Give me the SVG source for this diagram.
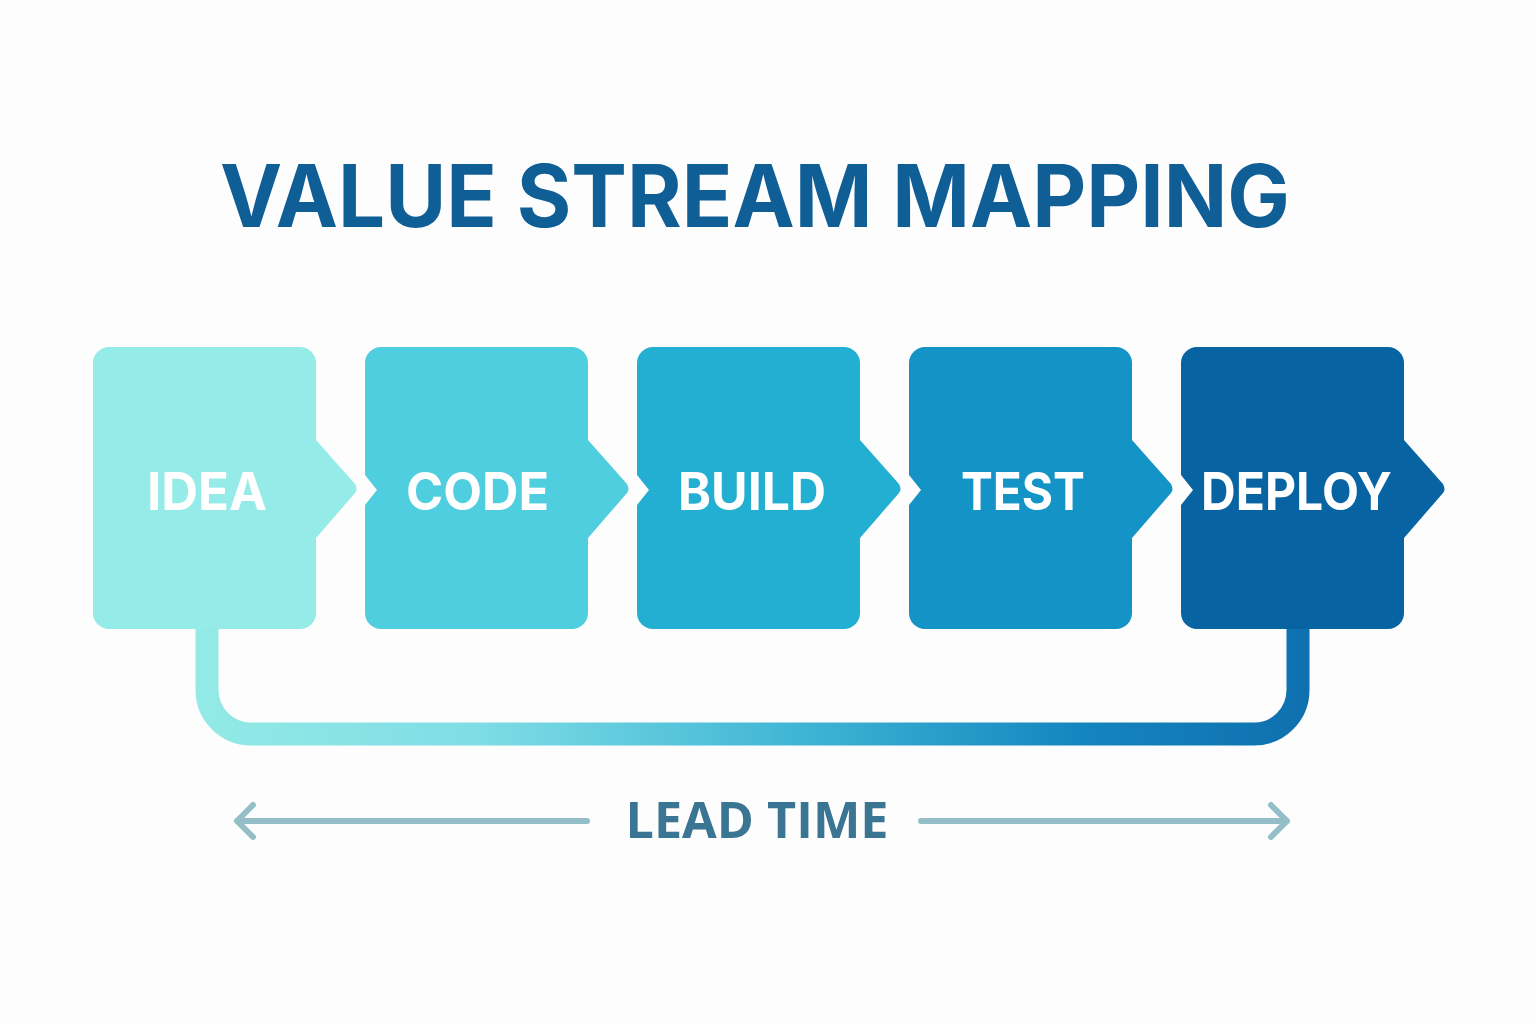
<svg xmlns="http://www.w3.org/2000/svg" width="1536" height="1024" viewBox="0 0 1536 1024">
  <defs>
    <linearGradient id="loopGrad" x1="196" y1="0" x2="1310" y2="0" gradientUnits="userSpaceOnUse">
      <stop offset="0" stop-color="#93EAE6"/>
      <stop offset="0.25" stop-color="#7FDDE5"/>
      <stop offset="0.55" stop-color="#3DB4D4"/>
      <stop offset="0.8" stop-color="#1484BF"/>
      <stop offset="1" stop-color="#0F70AE"/>
    </linearGradient>
    <!-- step shape: rounded box with a pointed right side and a small notch on the left -->
    <path id="step" d="M16,0 H207 A16,16 0 0 1 223,16 V93 L262,137 Q265,143 262,146 L223,191 V266 A16,16 0 0 1 207,282 H16 A16,16 0 0 1 0,266 V158 L12,143 L0,128 V16 A16,16 0 0 1 16,0 Z"/>
    <path id="stepFirst" d="M16,0 H207 A16,16 0 0 1 223,16 V93 L262,137 Q265,143 262,146 L223,191 V266 A16,16 0 0 1 207,282 H16 A16,16 0 0 1 0,266 V16 A16,16 0 0 1 16,0 Z"/>
  </defs>
  <style>
    .title { font-family: Inter, "Noto Sans", "Liberation Sans", sans-serif; font-weight: 700; font-size: 86px; fill: #0F5E96; }
    .label { font-family: Inter, "Noto Sans", "Liberation Sans", sans-serif; font-weight: 700; font-size: 52px; fill: #FFFFFF; }
    .lead { font-family: "Open Sans", "Noto Sans", "Liberation Sans", sans-serif; font-weight: 700; font-size: 50px; fill: #3A7593; }
    .span { fill: none; stroke: #94BEC8; stroke-width: 6; stroke-linecap: round; stroke-linejoin: round; }
  </style>

  <rect width="1536" height="1024" fill="#FDFDFD"/>

  <text class="title" x="755" y="227" text-anchor="middle" textLength="1070" lengthAdjust="spacingAndGlyphs">VALUE STREAM MAPPING</text>

  <!-- feedback loop from the first step to the last -->
  <g id="connectors">
    <path d="M207,625 V690 A44,44 0 0 0 251,734 H1254 A44,44 0 0 0 1298,690 V625" fill="none" stroke="url(#loopGrad)" stroke-width="23"/>
  </g>

  <g id="node-idea" transform="translate(93,347)">
    <use href="#stepFirst" fill="#94EBE7"/>
    <text class="label" x="114" y="163" text-anchor="middle" textLength="120" lengthAdjust="spacingAndGlyphs">IDEA</text>
  </g>
  <g id="node-code" transform="translate(365,347)">
    <use href="#step" fill="#4ECEDE"/>
    <text class="label" x="112.5" y="163" text-anchor="middle" textLength="143" lengthAdjust="spacingAndGlyphs">CODE</text>
  </g>
  <g id="node-build" transform="translate(637,347)">
    <use href="#step" fill="#22AFD2"/>
    <text class="label" x="115" y="163" text-anchor="middle" textLength="148" lengthAdjust="spacingAndGlyphs">BUILD</text>
  </g>
  <g id="node-test" transform="translate(909,347)">
    <use href="#step" fill="#1393C6"/>
    <text class="label" x="114" y="163" text-anchor="middle" textLength="124" lengthAdjust="spacingAndGlyphs">TEST</text>
  </g>
  <g id="node-deploy" transform="translate(1181,347)">
    <use href="#step" fill="#0763A1"/>
    <text class="label" x="115.5" y="163" text-anchor="middle" textLength="191" lengthAdjust="spacingAndGlyphs">DEPLOY</text>
  </g>

  <!-- lead time span -->
  <g id="lead-time">
    <path class="span" d="M587,821 H237 M253,805 L237,821 L253,837"/>
    <path class="span" d="M921,821 H1287 M1271,805 L1287,821 L1271,837"/>
    <text class="lead" x="757" y="838" text-anchor="middle" textLength="263" lengthAdjust="spacingAndGlyphs">LEAD TIME</text>
  </g>
</svg>
